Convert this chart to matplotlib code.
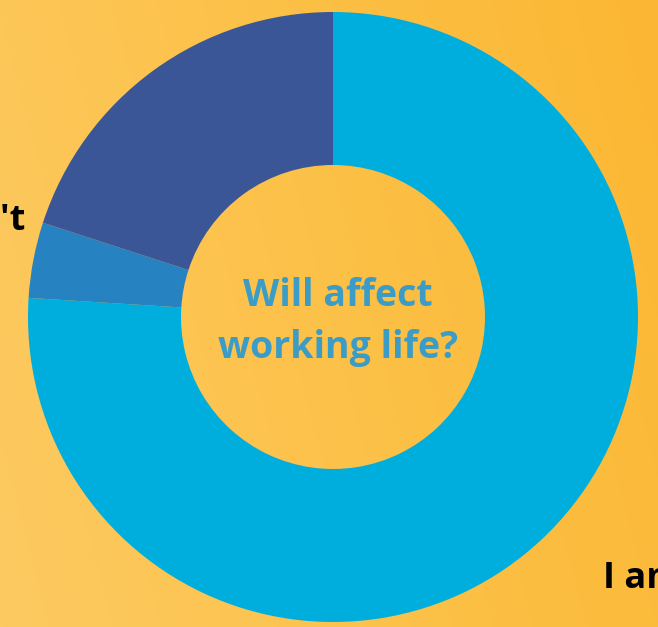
import numpy as np
import matplotlib
matplotlib.use("Agg")
import matplotlib.pyplot as plt
from matplotlib.colors import LinearSegmentedColormap

# Survey answers: "Will affect working life?"
answers = ["I am sure", "Not sure", "Won't"]
shares = [76, 4, 20]
colors = ["#00AEDE", "#2782C1", "#3B5697"]
question = "Will affect\nworking life?"

W, H = 658, 627
fig = plt.figure(figsize=(W / 100, H / 100), dpi=100)
ax = fig.add_axes([0, 0, 1, 1])

# warm diagonal background gradient
bg = LinearSegmentedColormap.from_list("bg", ["#FDCA62", "#FCC148", "#FBB733"])
xx, yy = np.meshgrid(np.linspace(0, 1, 300), np.linspace(0, 1, 300))
grad = 0.8 * xx + 0.2 * yy
ax.imshow(grad, cmap=bg, extent=[0, W, 0, H], origin="lower", zorder=0, aspect="auto")

cx, cy = 333, H - 317
r_out, r_in = 305, 152
ax.pie(shares, colors=colors, startangle=90, counterclock=False,
       center=(cx, cy), radius=r_out, frame=True,
       wedgeprops=dict(width=r_out - r_in, linewidth=0))
ax.set_xlim(0, W)
ax.set_ylim(0, H)
ax.set_aspect("equal")
ax.axis("off")

font = ["Open Sans", "DejaVu Sans"]
ax.text(338, H - 322, question, ha="center", va="center", fontsize=27,
        fontweight="bold", color="#3A9CC7", family=font, linespacing=1.5, zorder=5)

ax.text(25, H - 230, answers[2], ha="right", va="baseline", fontsize=26,
        fontweight="bold", color="black", family=font, clip_on=False)
ax.text(603, H - 588, answers[0], ha="left", va="baseline", fontsize=26,
        fontweight="bold", color="black", family=font, clip_on=False)

fig.savefig("out.png", dpi=100)
